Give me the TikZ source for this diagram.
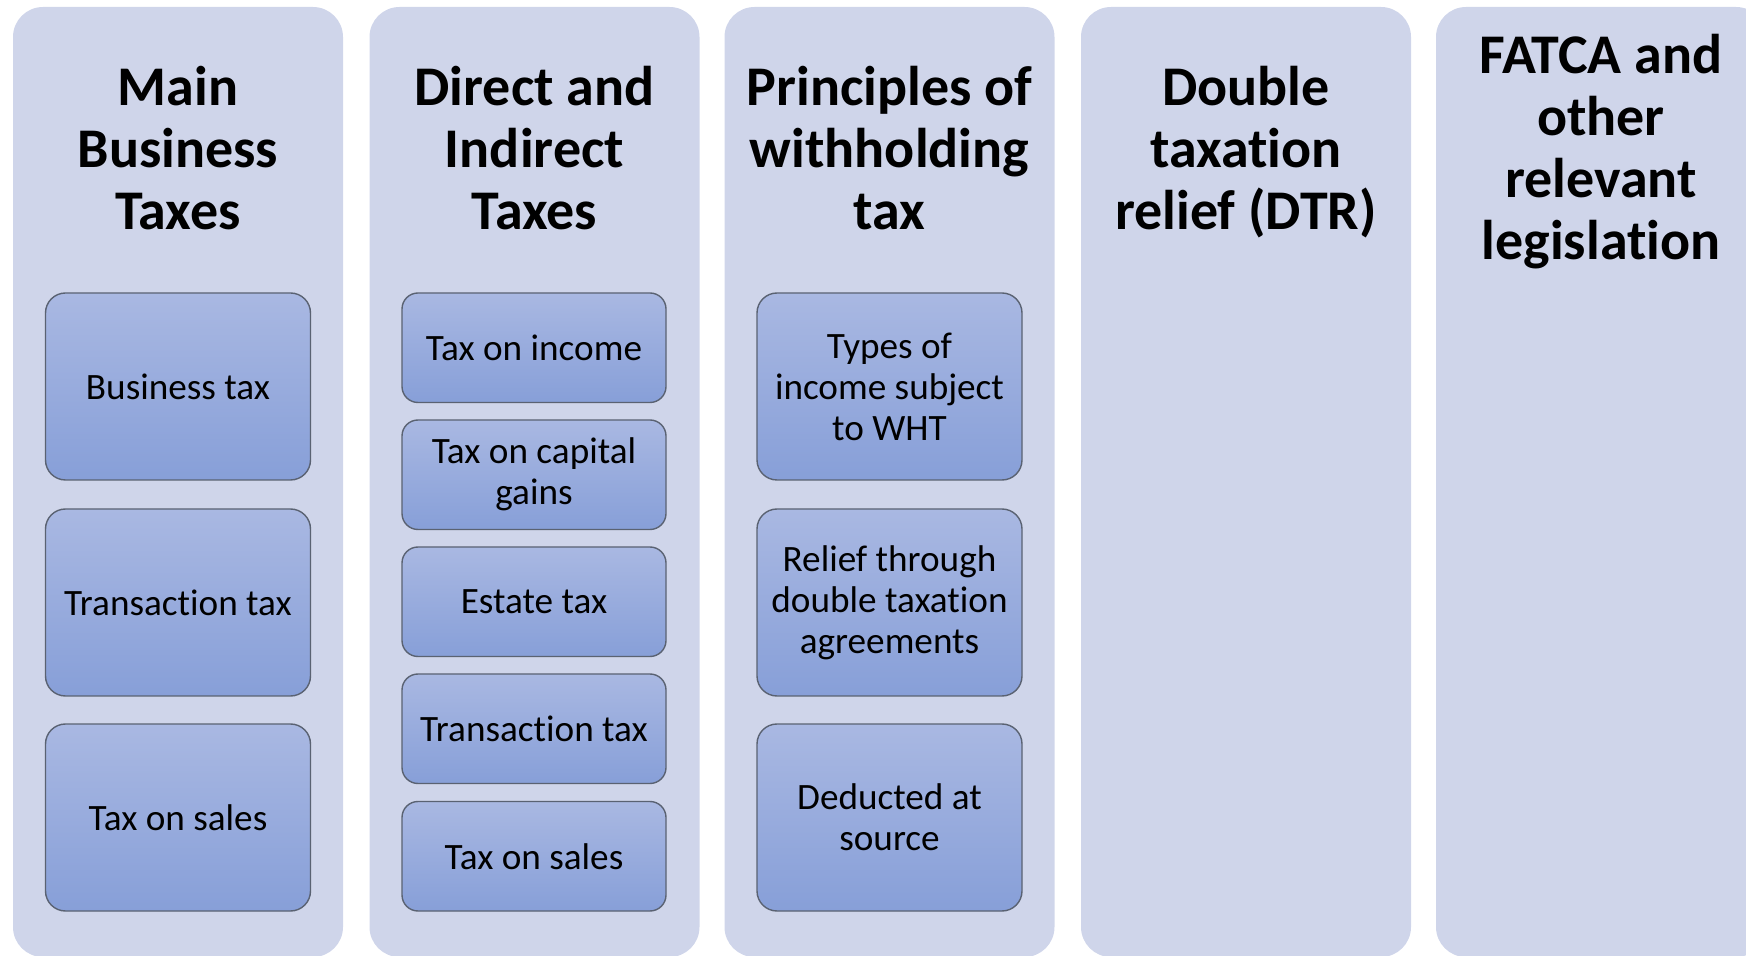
\documentclass[tikz,border=0pt]{standalone}
\usepackage{fontspec}
\setmainfont{Carlito}[Ligatures={NoCommon}]
\definecolor{colfill}{HTML}{CFD5EA}
\definecolor{boxtop}{HTML}{A9B8E2}
\definecolor{boxbot}{HTML}{879FD8}
\definecolor{boxline}{HTML}{5A6272}
\begin{document}
\begin{tikzpicture}[x=0.5pt,y=-0.5pt,
  col/.style={fill=colfill, draw=none, rounded corners=15pt, minimum width=165pt, minimum height=475pt, inner sep=0pt},
  title/.style={align=center, font=\bfseries\fontsize{28}{31}\selectfont, text=black},
  boxbase/.style={draw=boxline, line width=0.7pt, top color=boxtop, bottom color=boxbot, align=center, inner sep=0pt, font=\fontsize{18.6}{20.5}\selectfont, text=black},
  bigbox/.style={boxbase, rounded corners=10pt, minimum width=132.5pt, minimum height=93.5pt},
  smallbox/.style={boxbase, rounded corners=8pt, minimum width=132pt, minimum height=54.75pt}
]
\useasboundingbox (0,0) rectangle (1746,956);
\clip (0,0) rectangle (1746,956);
% columns
\node[col] (c1) at (178,482) {};
\node[col] (c2) at (534.5,482) {};
\node[col] (c3) at (889.5,482) {};
\node[col] (c4) at (1246,482) {};
\node[col] (c5) at (1601,482) {};
% titles
\node[title] (t1) at (178,148) {Main\\Business\\Taxes};
\node[title] (t2) at (534.5,148) {Direct and\\Indirect\\Taxes};
\node[title] (t3) at (889.5,148) {Principles of\\withholding\\tax};
\node[title] (t4) at (1246,152) {Double\\taxation\\relief (DTR)};
\node[title] (t5) at (1601,152) {FATCA and\\other\\relevant\\legislation};
% column 1
\node[bigbox] (a1) at (178,386.5) {Business tax};
\node[bigbox] (a2) at (178,602.5) {Transaction tax};
\node[bigbox] (a3) at (178,817.5) {Tax on sales};
% column 2
\node[smallbox] (b1) at (534,347.75) {Tax on income};
\node[smallbox] (b2) at (534,474.75) {Tax on capital\\gains};
\node[smallbox] (b3) at (534,601.75) {Estate tax};
\node[smallbox] (b4) at (534,728.75) {Transaction tax};
\node[smallbox] (b5) at (534,856.25) {Tax on sales};
% column 3
\node[bigbox] (d1) at (889.5,386.5) {Types of\\income subject\\to WHT};
\node[bigbox] (d2) at (889.5,602.5) {Relief through\\double taxation\\agreements};
\node[bigbox] (d3) at (889.5,817.5) {Deducted at\\source};
\end{tikzpicture}
\end{document}
